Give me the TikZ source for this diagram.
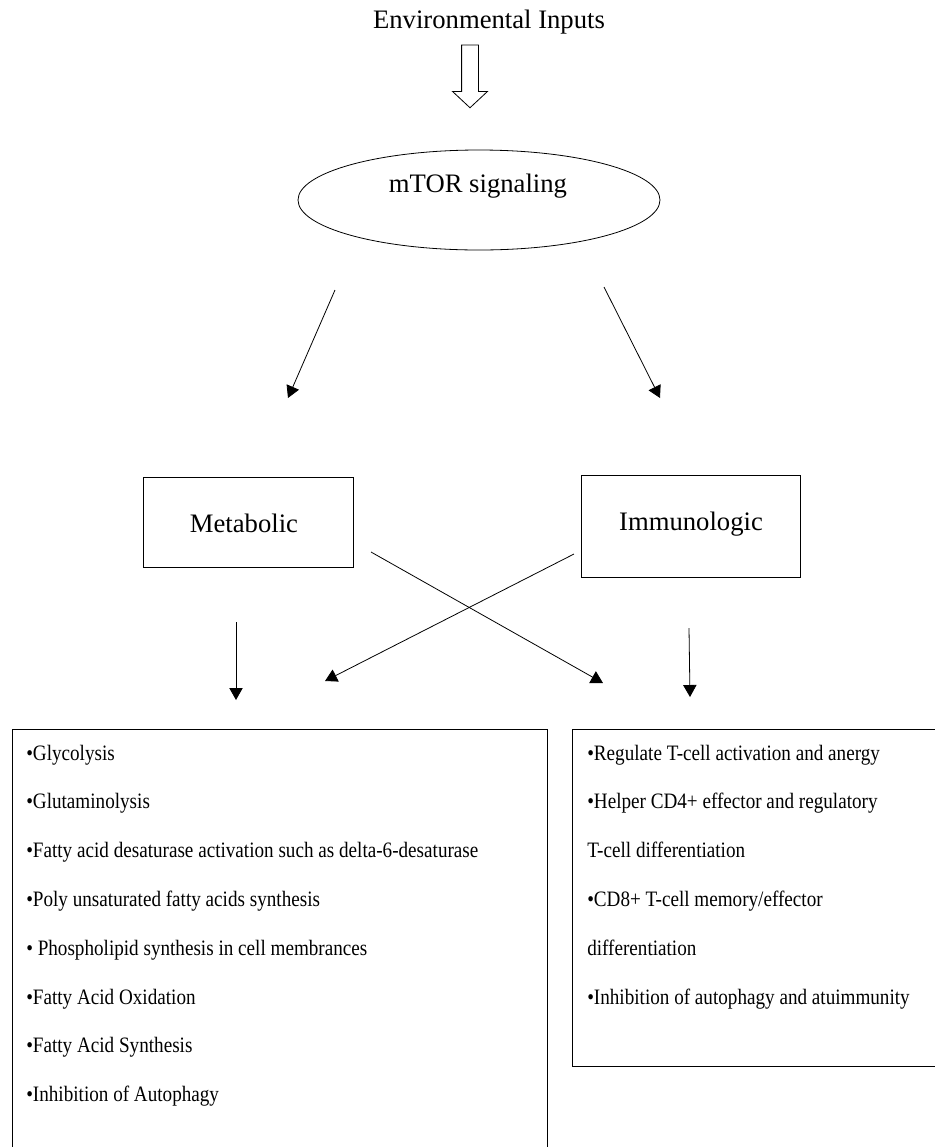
\documentclass[tikz,border=0pt]{standalone}
\usepackage{fontspec}
\setmainfont{Liberation Serif}
\newfontfamily\listfont{Liberation Serif}[FakeStretch=0.87]
\usetikzlibrary{shapes.geometric,shapes.arrows,arrows.meta}

\begin{document}
\begin{tikzpicture}[x=0.75pt, y=-0.75pt,
    every node/.style={font=\fontsize{16}{19}\selectfont},
    head/.style={font=\fontsize{20}{24}\selectfont, inner sep=0pt},
    oval/.style={draw, ellipse, line width=0.6pt,
      minimum width=271.5pt, minimum height=75pt},
    box/.style={draw, rectangle, line width=0.6pt, align=center},
    panel/.style={draw, rectangle, anchor=north west, line width=0.6pt},
    item/.style={anchor=base west, inner sep=0pt, font=\listfont\fontsize{16.5}{19}\selectfont},
    hollow/.style={draw, single arrow, rotate=-90, inner xsep=0pt, inner ysep=6pt,
      line width=0.6pt, minimum height=47pt, minimum width=25.5pt,
      single arrow head extend=6.75pt, single arrow tip angle=94},
    flow/.style={-{Triangle[length=9pt, width=10pt]}, line width=0.6pt},
  ]
  \useasboundingbox (0,0) rectangle (935,1147);
  \clip (0,0) rectangle (935,1147);

  \node[head] (envin) at (489, 22) {Environmental Inputs};
  \node[hollow] (inarrow) at (470, 72.5) {};

  \node[oval] (mtor) at (479, 200) {};
  \node[head] (mtorlab) at (478, 186) {mTOR signaling};

  \node[box, minimum width=158pt, minimum height=68pt] (metab) at (248.5, 522.5) {};
  \node[head] (metablab) at (244, 523) {Metabolic};
  \node[box, minimum width=164pt, minimum height=76.5pt] (immun) at (691, 526) {};
  \node[head] (immunlab) at (691, 524) {Immunologic};

  \node[panel, minimum width=401pt, minimum height=340pt] (metlist) at (12, 729) {};
  \node[panel, minimum width=285pt, minimum height=252.75pt] (immlist) at (572, 729) {};

  % metabolic effects
  \node[item] (g1) at (26, 760) {•Glycolysis};
  \node[item] (g2) at (26, 808.8) {•Glutaminolysis};
  \node[item] (g3) at (26, 857.6) {•Fatty acid desaturase activation such as delta-6-desaturase};
  \node[item] (g4) at (26, 906.4) {•Poly unsaturated fatty acids synthesis};
  \node[item] (g5) at (26, 955.2) {• Phospholipid synthesis in cell membrances};
  \node[item] (g6) at (26, 1004) {•Fatty Acid Oxidation};
  \node[item] (g7) at (26, 1052.8) {•Fatty Acid Synthesis};
  \node[item] (g8) at (26, 1101.6) {•Inhibition of Autophagy};

  % immunologic effects
  \node[item] (t1) at (587, 760) {•Regulate T-cell activation and anergy};
  \node[item] (t2) at (587, 808.8) {•Helper CD4+ effector and regulatory};
  \node[item] (t3) at (587, 857.6) {T-cell differentiation};
  \node[item] (t4) at (587, 906.4) {•CD8+ T-cell memory/effector};
  \node[item] (t5) at (587, 955.2) {differentiation};
  \node[item] (t6) at (587, 1004) {•Inhibition of autophagy and atuimmunity};

  % arrow ends
  \coordinate (ml) at (335, 290);  \coordinate (mlend) at (288, 398);
  \coordinate (mr) at (604, 287);  \coordinate (mrend) at (660, 398);
  \coordinate (xm) at (371, 552);  \coordinate (xmend) at (603, 683);
  \coordinate (xi) at (574, 554);  \coordinate (ximend) at (325, 681);
  \coordinate (dm) at (236, 622);  \coordinate (dmend) at (236, 700);
  \coordinate (di) at (689, 628);  \coordinate (diend) at (690, 697);

  \draw[flow] (ml) -- (mlend);
  \draw[flow] (mr) -- (mrend);
  \draw[flow] (xm) -- (xmend);
  \draw[flow] (xi) -- (ximend);
  \draw[flow] (dm) -- (dmend);
  \draw[flow] (di) -- (diend);
\end{tikzpicture}
\end{document}
